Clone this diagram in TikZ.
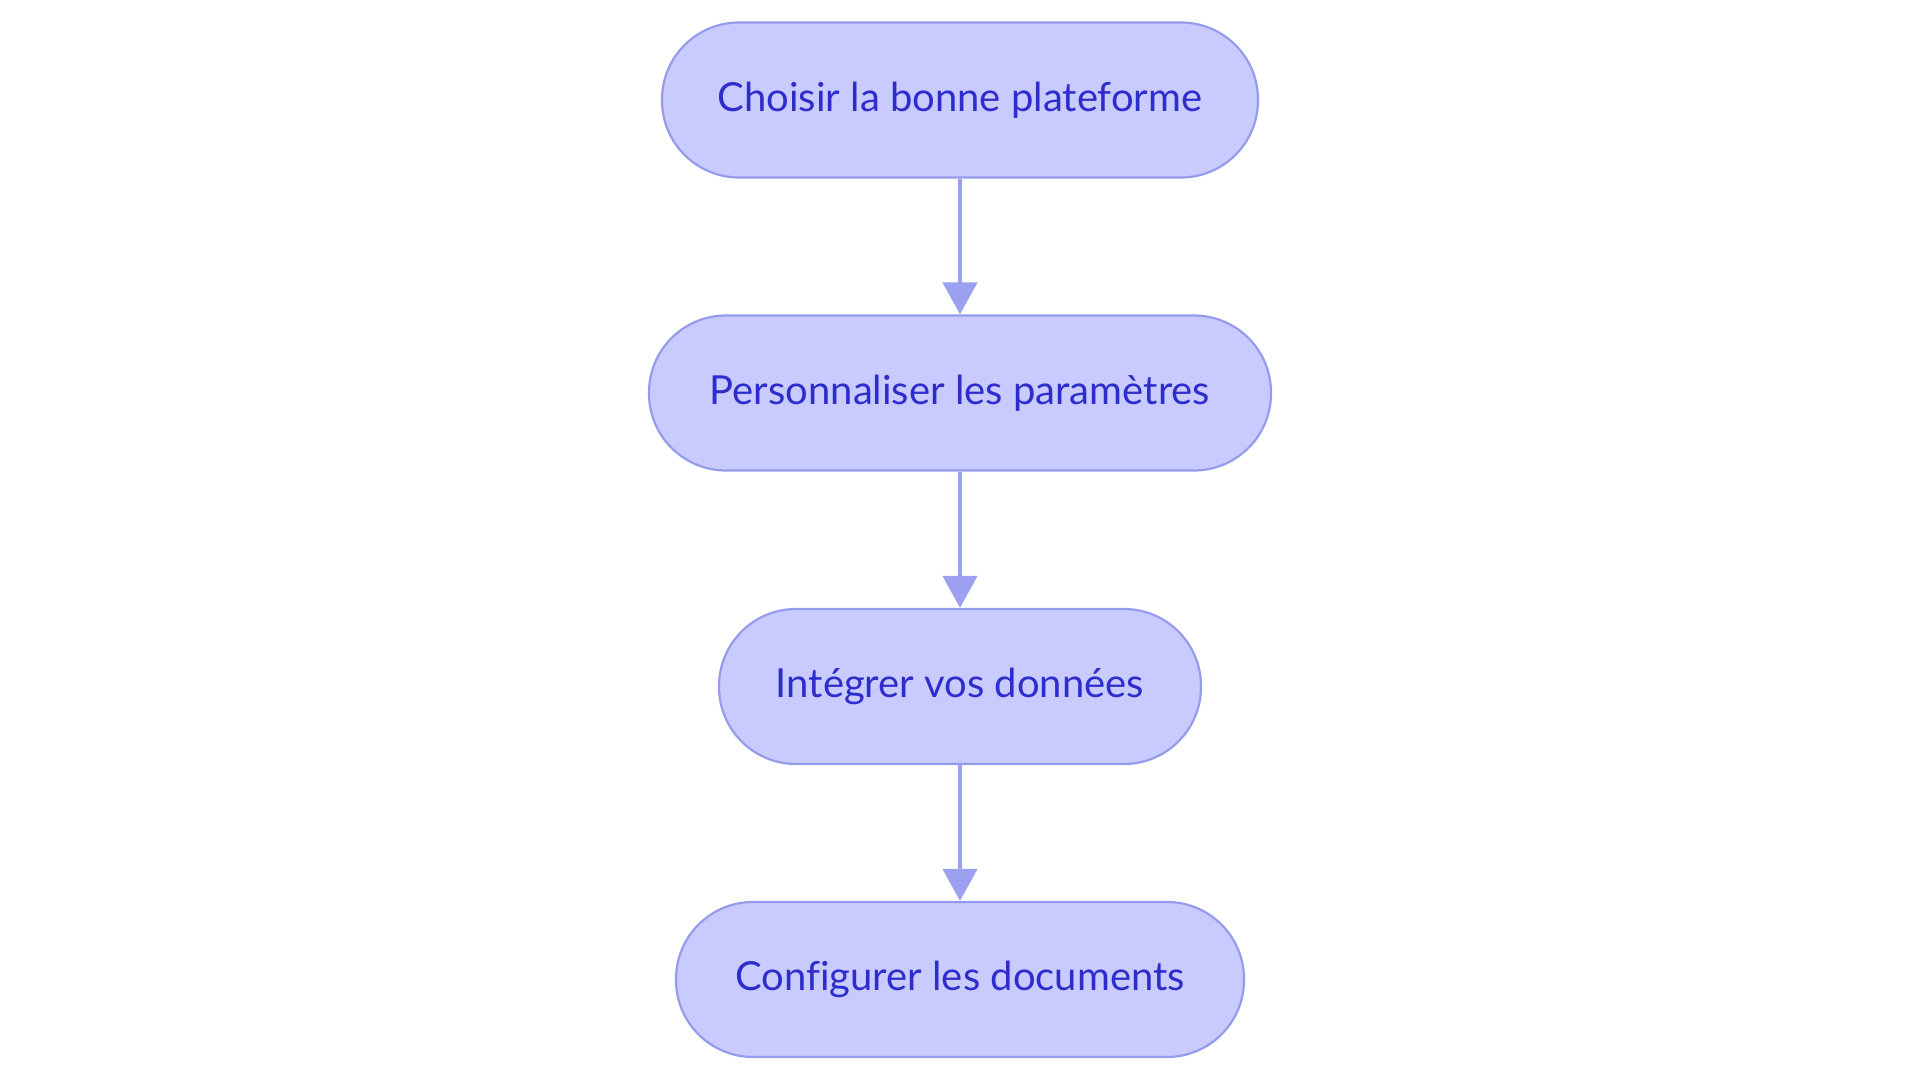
\documentclass[tikz,border=0pt]{standalone}
\usepackage{fontspec}
\setmainfont[Ligatures=NoCommon]{Lato}
\usetikzlibrary{arrows.meta}
\definecolor{nodefill}{RGB}{201,202,253}
\definecolor{nodeline}{RGB}{150,156,236}
\definecolor{arrowcol}{RGB}{155,160,240}
\definecolor{textcol}{RGB}{45,45,205}
\tikzset{
  stepbox/.style={draw=nodeline, line width=2.2pt, fill=nodefill, rounded corners=77pt,
    minimum height=155pt, inner sep=0pt, text=textcol, font=\fontsize{40}{48}\selectfont},
  flow/.style={draw=arrowcol, line width=4.5pt, -{Triangle[width=34pt,length=32pt]}, arrowcol}
}
\begin{document}
\begin{tikzpicture}[x=1pt,y=1pt]
\useasboundingbox[fill=white] (0,0) rectangle (1920,1083);
\node[stepbox, minimum width=596pt] (n1) at (960,983) {Choisir la bonne plateforme};
\node[stepbox, minimum width=622pt] (n2) at (960,690) {Personnaliser les paramètres};
\node[stepbox, minimum width=482pt] (n3) at (960,396.5) {Intégrer vos données};
\node[stepbox, minimum width=568pt] (n4) at (960,103.5) {Configurer les documents};
\draw[flow] (n1) -- (n2);
\draw[flow] (n2) -- (n3);
\draw[flow] (n3) -- (n4);
\end{tikzpicture}
\end{document}
